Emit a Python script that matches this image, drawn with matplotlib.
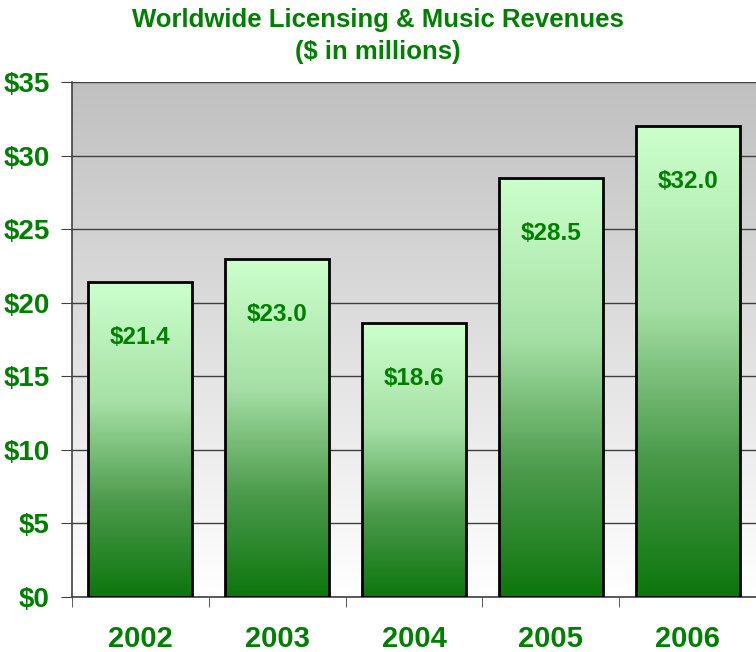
import numpy as np
import matplotlib
matplotlib.use('Agg')
import matplotlib.pyplot as plt
from matplotlib.colors import LinearSegmentedColormap

# данные
years = ['2002', '2003', '2004', '2005', '2006']
revenues = [21.4, 23.0, 18.6, 28.5, 32.0]
y_ticks = [0, 5, 10, 15, 20, 25, 30, 35]
y_labels = ['$0', '$5', '$10', '$15', '$20', '$25', '$30', '$35']

green = '#008000'
plt.rcParams['font.family'] = ['Liberation Sans', 'DejaVu Sans']

fig = plt.figure(figsize=(7.56, 6.52), dpi=100)
ax = fig.add_axes([0.0952, 0.0844, 0.9048, 0.7898])

x = np.arange(len(years))
ax.set_xlim(-0.5, len(years) - 0.5)
ax.set_ylim(0, 35)

# фон: серый сверху, белый снизу
bg = LinearSegmentedColormap.from_list('bg', ['#ffffff', '#c0c0c0'])
grad = np.linspace(0, 1, 256).reshape(-1, 1)
ax.imshow(grad, cmap=bg, origin='lower', aspect='auto',
          extent=[0, 1, 0, 1], transform=ax.transAxes, zorder=0)

ax.yaxis.grid(True, color='#404040', linewidth=1)
ax.set_axisbelow(True)

# столбцы с градиентом
bar_cmap = LinearSegmentedColormap.from_list(
    'bars', [(0, '#0d760d'), (0.3, '#4b9a4b'), (0.62, '#a6e0a6'), (1.0, '#ccffcc')])
bars = ax.bar(x, revenues, width=0.76, facecolor='none', edgecolor='black',
              linewidth=2, zorder=3)
for b in bars:
    x0, w, h = b.get_x(), b.get_width(), b.get_height()
    ax.imshow(grad, cmap=bar_cmap, origin='lower', aspect='auto',
              extent=[x0, x0 + w, 0, h], zorder=2)
    ax.annotate(f'${h:.1f}', (x0 + w / 2, h), xytext=(0, -40),
                textcoords='offset points', ha='center', va='center',
                color=green, fontsize=17.5, fontweight='bold', zorder=4)
ax.set_xlim(-0.5, len(years) - 0.5)
ax.set_ylim(0, 35)

ax.set_yticks(y_ticks)
ax.set_yticklabels(y_labels, color=green, fontsize=20, fontweight='bold')
ax.set_xticks(x)
ax.set_xticklabels(years, color=green, fontsize=21, fontweight='bold')
ax.tick_params(axis='x', length=0, pad=20)
ax.set_xticks(np.arange(len(years) + 1) - 0.5, minor=True)
ax.tick_params(axis='x', which='minor', length=7, color='#404040')
ax.tick_params(axis='y', length=8, color='#404040', pad=8)

for s in ['top', 'right']:
    ax.spines[s].set_visible(False)
for s in ['left', 'bottom']:
    ax.spines[s].set_color('#404040')
    ax.spines[s].set_linewidth(1.2)

fig.text(0.5, 0.988, 'Worldwide Licensing & Music Revenues\n($ in millions)',
         ha='center', va='top', color=green, fontsize=18.5, fontweight='bold',
         linespacing=1.45)

fig.savefig('out.png', dpi=100)
